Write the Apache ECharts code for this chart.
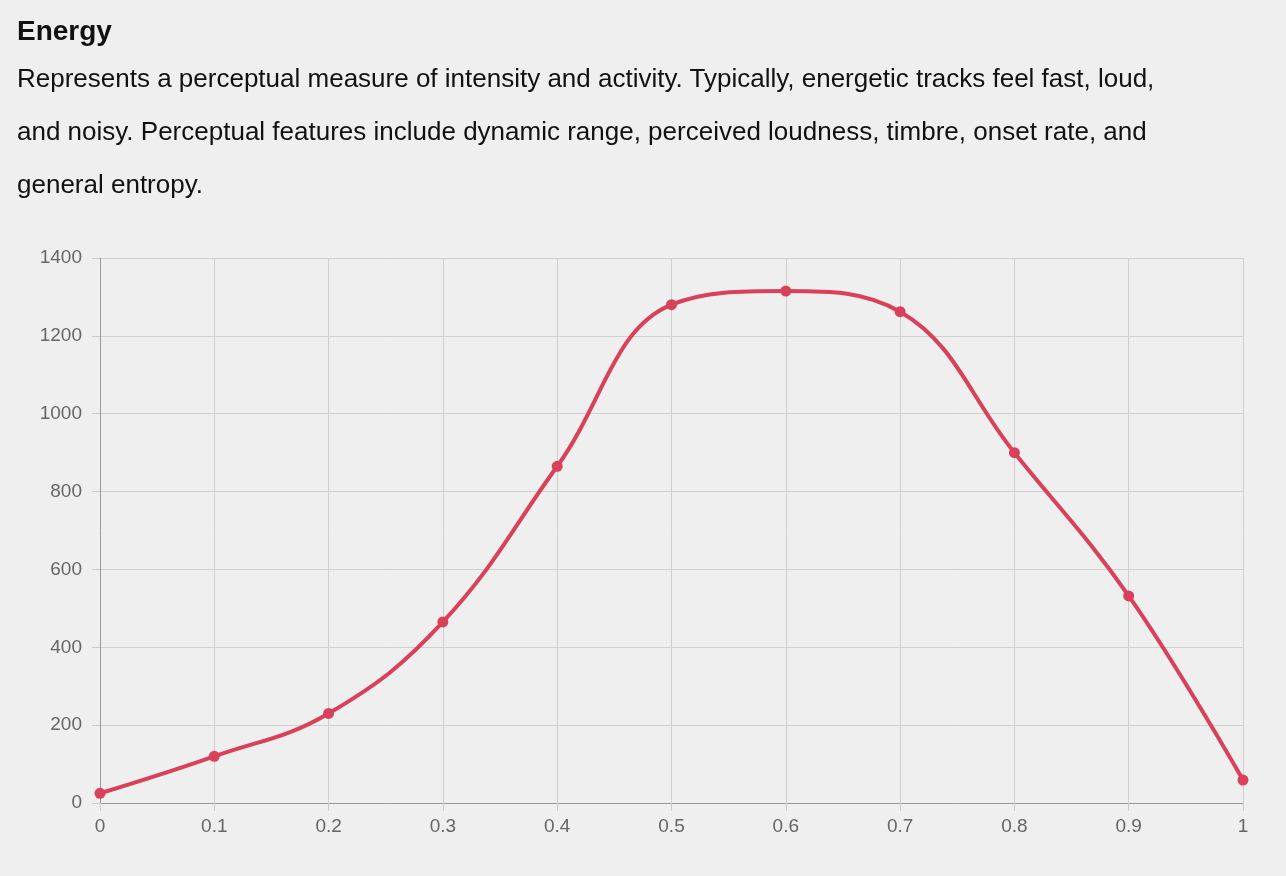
<!DOCTYPE html>
<html>
<head>
<meta charset="utf-8">
<script src="https://cdn.jsdelivr.net/npm/echarts@6/dist/echarts.min.js"></script>
<style>
  html, body { margin: 0; padding: 0; background: #efefef; }
  #head { position: absolute; left: 17px; top: 10px; font-family: "Helvetica", "Liberation Sans", Arial, sans-serif; color: #111; }
  #head h1 { margin: 0; font-size: 28px; font-weight: bold; line-height: 42px; }
  #head p { margin: 0; font-size: 26px; line-height: 53px; width: 1185px; }
  #chart { position: absolute; left: 0; top: 0; width: 1286px; height: 876px; }
</style>
</head>
<body>
<div id="chart"></div>
<div id="head">
  <h1>Energy</h1>
  <p>Represents a perceptual measure of intensity and activity. Typically, energetic tracks feel fast, loud, and noisy. Perceptual features include dynamic range, perceived loudness, timbre, onset rate, and general entropy.</p>
</div>
<script>
// energy bins and track counts
const energyBins = [0, 0.1, 0.2, 0.3, 0.4, 0.5, 0.6, 0.7, 0.8, 0.9, 1];
const trackCounts = [25, 120, 230, 465, 865, 1280, 1315, 1262, 900, 532, 59];

const chart = echarts.init(document.getElementById('chart'));
chart.setOption({
    backgroundColor: 'transparent',
    grid: { left: 100, right: 43, top: 258, bottom: 73 },
    xAxis: {
        type: 'value', min: 0, max: 1, interval: 0.1,
        axisLine: { lineStyle: { color: '#999' } },
        axisTick: { show: true, length: 8, lineStyle: { color: '#ccc' } },
        axisLabel: { color: '#666', fontSize: 19, margin: 14, fontFamily: 'Helvetica, Liberation Sans, Arial' },
        splitLine: { show: true, lineStyle: { color: '#d0d0d0' } }
    },
    yAxis: {
        type: 'value', min: 0, max: 1400, interval: 200,
        axisLine: { show: true, lineStyle: { color: '#999' } },
        axisTick: { show: true, length: 8, lineStyle: { color: '#ccc' } },
        axisLabel: { color: '#666', fontSize: 19, margin: 18, formatter: v => String(v), fontFamily: 'Helvetica, Liberation Sans, Arial' },
        splitLine: { show: true, lineStyle: { color: '#d0d0d0' } }
    },
    series: [{
        type: 'line',
        smooth: 0.4,
        data: energyBins.map((x, i) => [x, trackCounts[i]]),
        symbol: 'circle', symbolSize: 11,
        itemStyle: { color: '#d9405a' },
        lineStyle: { color: '#d9405a', width: 4 }
    }]
});
</script>
</body>
</html>
